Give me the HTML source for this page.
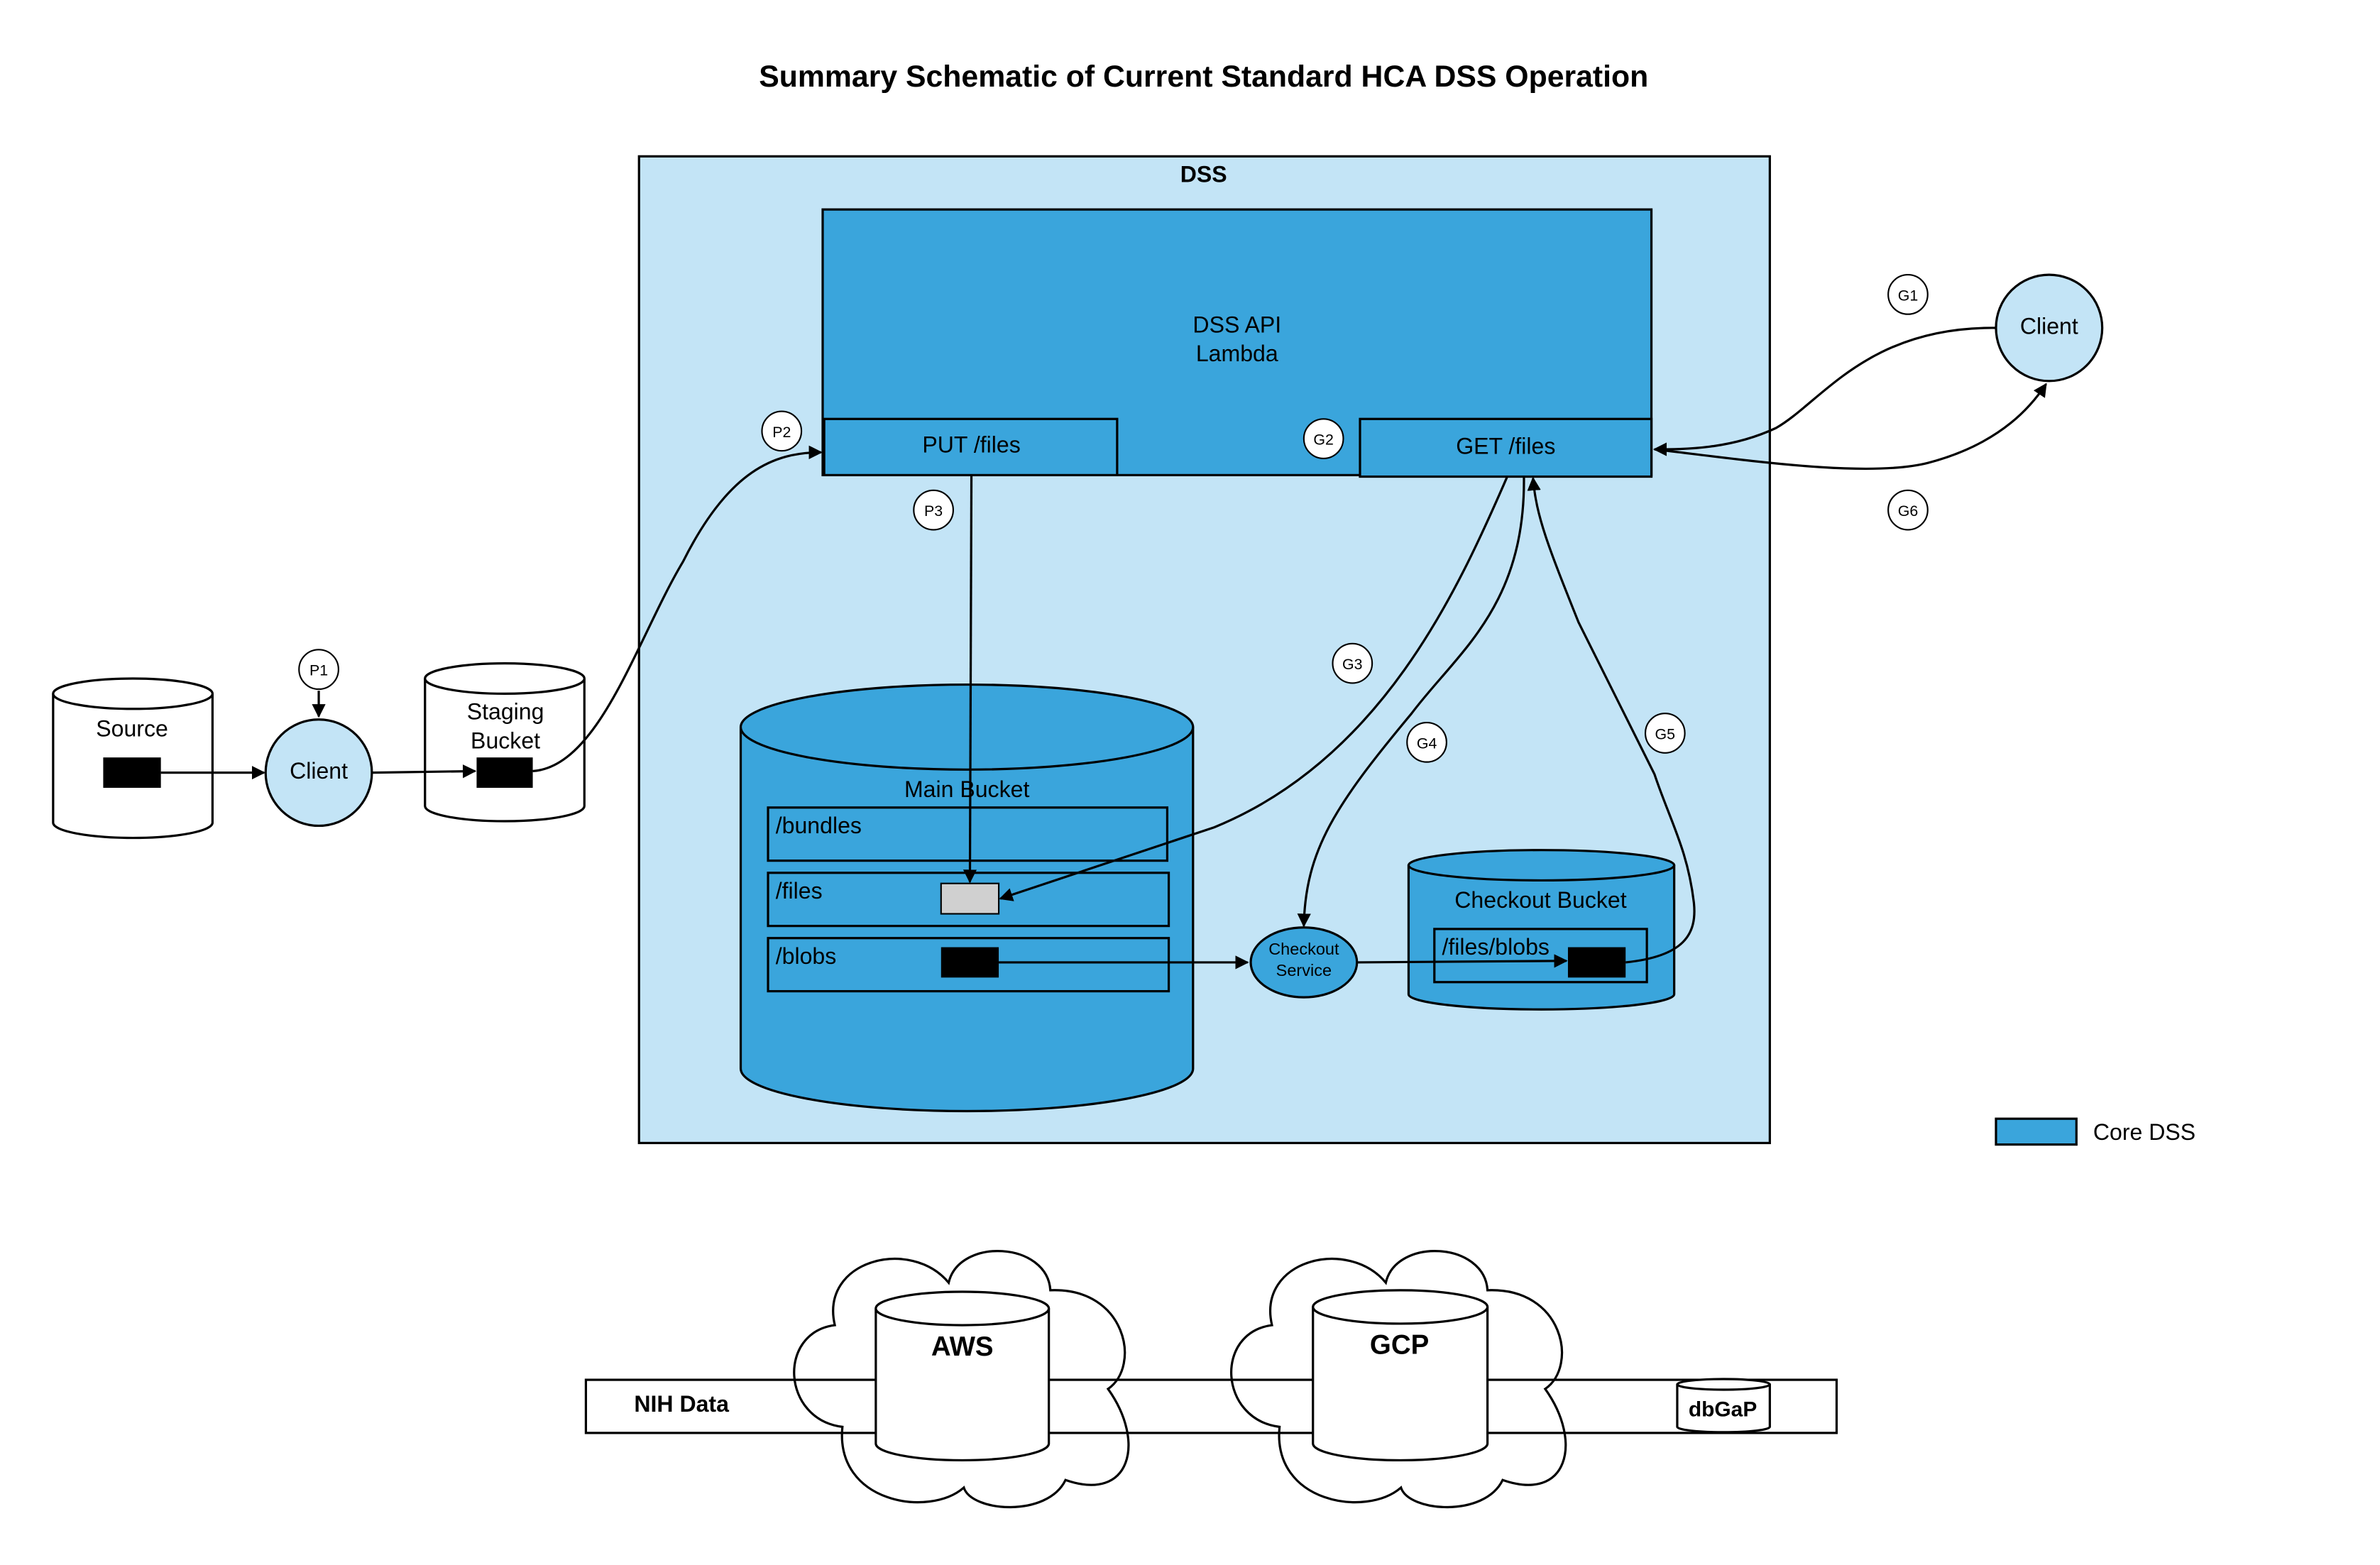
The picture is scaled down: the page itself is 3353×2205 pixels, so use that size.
<!DOCTYPE html>
<html><head><meta charset="utf-8"><style>
html,body{margin:0;padding:0;background:#fff}
svg{display:block}
text{font-family:"Liberation Sans",Arial,sans-serif;fill:#000}
</style></head><body>
<svg width="3353" height="2205" viewBox="0 0 1568 1031" preserveAspectRatio="none" xmlns="http://www.w3.org/2000/svg">
<defs>
<marker id="a" viewBox="0 0 10 10" refX="9" refY="5" markerWidth="9" markerHeight="9" markerUnits="userSpaceOnUse" orient="auto"><path d="M0,0L10,5L0,10z" fill="#000"/></marker>
</defs>
<text x="793" y="57" font-size="20" font-weight="bold" text-anchor="middle">Summary Schematic of Current Standard HCA DSS Operation</text>

<rect x="421" y="103" width="745" height="650" fill="#c3e4f6" stroke="#000" stroke-width="1.5"/>
<text x="793" y="120" font-size="15" font-weight="bold" text-anchor="middle">DSS</text>

<rect x="542" y="138" width="546" height="175" fill="#3aa5dc" stroke="#000" stroke-width="1.5"/>
<text x="815" y="219" font-size="15" text-anchor="middle">DSS API</text>
<text x="815" y="238" font-size="15" text-anchor="middle">Lambda</text>
<rect x="543" y="276" width="193" height="37" fill="#3aa5dc" stroke="#000" stroke-width="1.5"/>
<text x="640" y="298" font-size="15" text-anchor="middle">PUT /files</text>
<rect x="896" y="276" width="192" height="38" fill="#3aa5dc" stroke="#000" stroke-width="1.5"/>
<text x="992" y="299" font-size="15" text-anchor="middle">GET /files</text>

<path d="M488,479 L488,704 A149,28 0 0 0 786,704 L786,479" fill="#3aa5dc" stroke="#000" stroke-width="1.5"/>
<ellipse cx="637" cy="479" rx="149" ry="28" fill="#3aa5dc" stroke="#000" stroke-width="1.5"/>
<text x="637" y="525" font-size="15" text-anchor="middle">Main Bucket</text>
<rect x="506" y="532" width="263" height="35" fill="#3aa5dc" stroke="#000" stroke-width="1.5"/>
<text x="511" y="549" font-size="15">/bundles</text>
<rect x="506" y="575" width="264" height="35" fill="#3aa5dc" stroke="#000" stroke-width="1.5"/>
<text x="511" y="592" font-size="15">/files</text>
<rect x="506" y="618" width="264" height="35" fill="#3aa5dc" stroke="#000" stroke-width="1.5"/>
<text x="511" y="635" font-size="15">/blobs</text>
<rect x="620" y="582" width="38" height="20" fill="#d0d0d0" stroke="#000"/>
<rect x="620" y="624" width="38" height="20" fill="#000"/>

<ellipse cx="859" cy="634" rx="35" ry="23" fill="#3aa5dc" stroke="#000" stroke-width="1.5"/>
<text x="859" y="629" font-size="11" text-anchor="middle">Checkout</text>
<text x="859" y="643" font-size="11" text-anchor="middle">Service</text>

<path d="M928,570 L928,655 A87.5,10 0 0 0 1103,655 L1103,570" fill="#3aa5dc" stroke="#000" stroke-width="1.5"/>
<ellipse cx="1015.5" cy="570" rx="87.5" ry="10" fill="#3aa5dc" stroke="#000" stroke-width="1.5"/>
<text x="1015" y="598" font-size="15" text-anchor="middle">Checkout Bucket</text>
<rect x="945" y="612" width="140" height="35" fill="#3aa5dc" stroke="#000" stroke-width="1.5"/>
<text x="950" y="629" font-size="15">/files/blobs</text>
<rect x="1033" y="624" width="38" height="20" fill="#000"/>

<path d="M35,457 L35,542 A52.5,10 0 0 0 140,542 L140,457" fill="#fff" stroke="#000" stroke-width="1.5"/>
<ellipse cx="87.5" cy="457" rx="52.5" ry="10" fill="#fff" stroke="#000" stroke-width="1.5"/>
<text x="87" y="485" font-size="15" text-anchor="middle">Source</text>
<rect x="68" y="499" width="38" height="20" fill="#000"/>
<path d="M280,447 L280,531 A52.5,10 0 0 0 385,531 L385,447" fill="#fff" stroke="#000" stroke-width="1.5"/>
<ellipse cx="332.5" cy="447" rx="52.5" ry="10" fill="#fff" stroke="#000" stroke-width="1.5"/>
<text x="333" y="474" font-size="15" text-anchor="middle">Staging</text>
<text x="333" y="493" font-size="15" text-anchor="middle">Bucket</text>
<rect x="314" y="499" width="37" height="20" fill="#000"/>

<circle cx="210" cy="509" r="35" fill="#c3e4f6" stroke="#000" stroke-width="1.5"/>
<text x="210" y="513" font-size="15" text-anchor="middle">Client</text>
<circle cx="1350" cy="216" r="35" fill="#c3e4f6" stroke="#000" stroke-width="1.5"/>
<text x="1350" y="220" font-size="15" text-anchor="middle">Client</text>

<g fill="none" stroke="#000" stroke-width="1.5" marker-end="url(#a)">
<path d="M106,509 L174,509"/>
<path d="M245,509 L313,508"/>
<path d="M210,455 L210,472"/>
<path d="M351,508 C395,505 420,420 450,370 C480,310 510,298 541,298"/>
<path d="M640,313 L639,581"/>
<path d="M993,314 C960,390 910,500 800,545 L659,592"/>
<path d="M1004,314 C1005,400 960,430 930,470 C880,530 860,560 859,610"/>
<path d="M1071,634 C1110,630 1118,615 1116,595 C1112,560 1100,540 1090,510 L1040,410 C1020,360 1012,340 1010,315"/>
<path d="M1315,216 C1230,215 1200,265 1170,282 C1140,296 1110,296 1090,296"/>
<path d="M1090,296 C1150,303 1230,315 1270,305 C1320,292 1340,265 1348,253"/>
<path d="M658,634 L822,634"/>
<path d="M894,634 L1032,633"/>
</g>

<g font-size="10" text-anchor="middle">
<circle cx="210" cy="441" r="13" fill="#fff" stroke="#000"/><text x="210" y="445">P1</text>
<circle cx="515" cy="284" r="13" fill="#fff" stroke="#000"/><text x="515" y="288">P2</text>
<circle cx="615" cy="336" r="13" fill="#fff" stroke="#000"/><text x="615" y="340">P3</text>
<circle cx="872" cy="289" r="13" fill="#fff" stroke="#000"/><text x="872" y="293">G2</text>
<circle cx="1257" cy="194" r="13" fill="#fff" stroke="#000"/><text x="1257" y="198">G1</text>
<circle cx="1257" cy="336" r="13" fill="#fff" stroke="#000"/><text x="1257" y="340">G6</text>
<circle cx="891" cy="437" r="13" fill="#fff" stroke="#000"/><text x="891" y="441">G3</text>
<circle cx="940" cy="489" r="13" fill="#fff" stroke="#000"/><text x="940" y="493">G4</text>
<circle cx="1097" cy="483" r="13" fill="#fff" stroke="#000"/><text x="1097" y="487">G5</text>
</g>

<rect x="1315" y="737" width="53" height="17" fill="#3aa5dc" stroke="#000" stroke-width="1.5"/>
<text x="1379" y="751" font-size="15">Core DSS</text>

<g fill="#fff" stroke="#000" stroke-width="1.5">
<path d="M555,940 C515,935 512,878 550,873 C540,830 600,815 625,845 C632,815 690,818 692,850 C742,848 752,900 730,915 C755,950 745,990 702,975 C690,1000 640,996 635,980 C612,1000 550,990 555,940 Z"/>
<path d="M843,940 C803,935 800,878 838,873 C828,830 888,815 913,845 C920,815 978,818 980,850 C1030,848 1040,900 1018,915 C1043,950 1033,990 990,975 C978,1000 928,996 923,980 C900,1000 838,990 843,940 Z"/>
</g>
<rect x="386" y="909" width="824" height="35" fill="none" stroke="#000" stroke-width="1.5"/>
<text x="449" y="930" font-size="15" font-weight="bold" text-anchor="middle">NIH Data</text>
<g fill="#fff" stroke="#000" stroke-width="1.5">
<path d="M577,862 L577,951 A57,11 0 0 0 691,951 L691,862"/>
<ellipse cx="634" cy="862" rx="57" ry="11"/>
<path d="M865,861 L865,951 A57.5,11 0 0 0 980,951 L980,861"/>
<ellipse cx="922.5" cy="861" rx="57.5" ry="11"/>
<path d="M1105,912 L1105,940 A30.5,3.5 0 0 0 1166,940 L1166,912"/>
<ellipse cx="1135.5" cy="912" rx="30.5" ry="3.5"/>
</g>
<text x="634" y="893" font-size="18" font-weight="bold" text-anchor="middle">AWS</text>
<text x="922" y="892" font-size="18" font-weight="bold" text-anchor="middle">GCP</text>
<text x="1135" y="933" font-size="14" font-weight="bold" text-anchor="middle">dbGaP</text>
</svg>
</body></html>
